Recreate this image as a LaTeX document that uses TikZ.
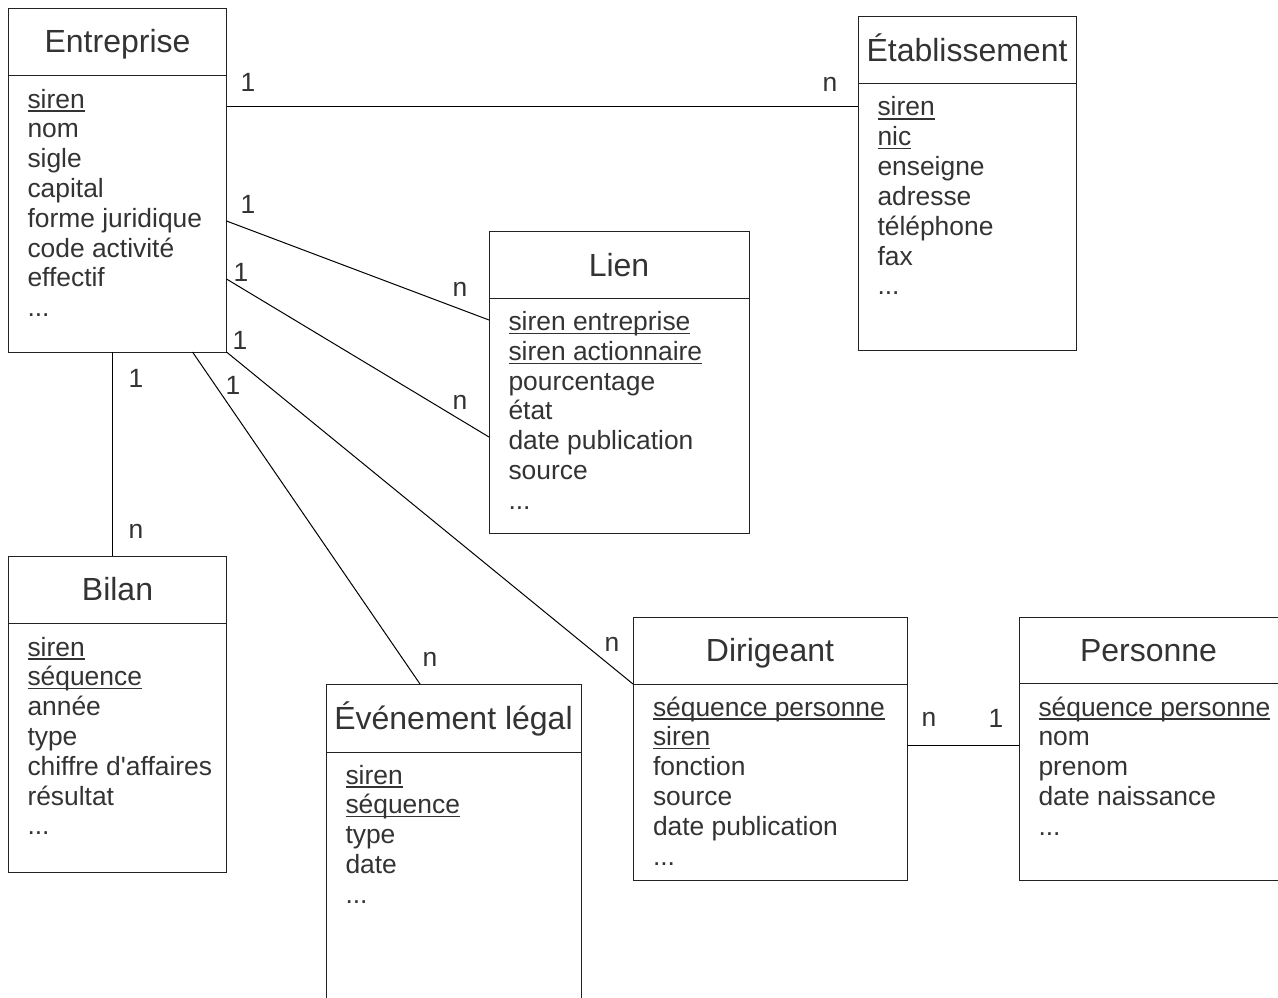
\documentclass[tikz,border=0pt]{standalone}
\usepackage{fontspec}
\setmainfont{Liberation Sans}
\usetikzlibrary{calc}
\definecolor{txt}{HTML}{333333}
\definecolor{edge}{HTML}{222222}
\newsavebox\keybox
\newcommand\keyattr[1]{\sbox\keybox{#1}\rlap{\rule[-3.6pt]{\wd\keybox}{1.3pt}}\usebox\keybox}
\newcommand\moreattr{.\kern0pt.\kern0pt.}
\begin{document}
\begin{tikzpicture}[x=1pt,y=-1pt,line width=1pt,
  box/.style={draw=edge, anchor=north west, inner sep=0pt, outer sep=0pt},
  headline/.style={draw=edge, line width=1pt},
  ttl/.style={anchor=base, inner sep=0pt, text=txt, font=\fontsize{32}{38}\selectfont},
  attr/.style={anchor=base west, inner sep=0pt, text=txt, font=\fontsize{26.4}{30}\selectfont},
  card/.style={anchor=center, inner sep=0pt, text=txt, font=\fontsize{26.4}{30}\selectfont},
  link/.style={draw=black, line width=1pt}]
\useasboundingbox (0,0) rectangle (1278,998);
\fill[white] (0,0) rectangle (1278,998);

% ---------- Entreprise
\node[box, minimum width=218pt, minimum height=343.5pt] (ent) at (8.5,8.5) {};
\draw[headline] ($(ent.north west)+(0,67.5)$) -- ($(ent.north east)+(0,67.5)$);
\node[ttl] (ent-t) at ($(ent.north)+(0,44.5)$) {Entreprise};
\foreach \a [count=\i] in {\keyattr{siren},nom,sigle,capital,forme juridique,code activité,effectif,\moreattr}
  \node[attr] (ent-\i) at ($(ent.north west)+(18.5,{99.5+(\i-1)*29.8})$) {\a};

% ---------- Etablissement
\node[box, minimum width=218pt, minimum height=333pt] (etab) at (858,17) {};
\draw[headline] ($(etab.north west)+(0,67)$) -- ($(etab.north east)+(0,67)$);
\node[ttl] (etab-t) at ($(etab.north)+(0,44.5)$) {Établissement};
\foreach \a [count=\i] in {\keyattr{siren},\keyattr{nic},enseigne,adresse,téléphone,fax,\moreattr}
  \node[attr] (etab-\i) at ($(etab.north west)+(19,{99+(\i-1)*29.8})$) {\a};

% ---------- Lien
\node[box, minimum width=260pt, minimum height=302pt] (lien) at (489,231) {};
\draw[headline] ($(lien.north west)+(0,67)$) -- ($(lien.north east)+(0,67)$);
\node[ttl] (lien-t) at ($(lien.north)+(0,45)$) {Lien};
\foreach \a [count=\i] in {\keyattr{siren entreprise},\keyattr{siren actionnaire},pourcentage,état,date publication,source,\moreattr}
  \node[attr] (lien-\i) at ($(lien.north west)+(19,{99.5+(\i-1)*29.8})$) {\a};

% ---------- Bilan
\node[box, minimum width=218pt, minimum height=316pt] (bilan) at (8.5,556) {};
\draw[headline] ($(bilan.north west)+(0,67)$) -- ($(bilan.north east)+(0,67)$);
\node[ttl] (bilan-t) at ($(bilan.north)+(0,44.5)$) {Bilan};
\foreach \a [count=\i] in {\keyattr{siren},\keyattr{séquence},année,type,chiffre d\textquotesingle affaires,résultat,\moreattr}
  \node[attr] (bilan-\i) at ($(bilan.north west)+(18.5,{100+(\i-1)*29.8})$) {\a};

% ---------- Evenement legal
\node[box, minimum width=255pt, minimum height=330pt] (evt) at (326,684) {};
\draw[headline] ($(evt.north west)+(0,68)$) -- ($(evt.north east)+(0,68)$);
\node[ttl] (evt-t) at ($(evt.north)+(0,45)$) {Événement légal};
\foreach \a [count=\i] in {\keyattr{siren},\keyattr{séquence},type,date,\moreattr}
  \node[attr] (evt-\i) at ($(evt.north west)+(19,{100+(\i-1)*29.8})$) {\a};

% ---------- Dirigeant
\node[box, minimum width=274pt, minimum height=263pt] (dir) at (633,617) {};
\draw[headline] ($(dir.north west)+(0,67)$) -- ($(dir.north east)+(0,67)$);
\node[ttl] (dir-t) at ($(dir.north)+(0,44.5)$) {Dirigeant};
\foreach \a [count=\i] in {\keyattr{séquence personne},\keyattr{siren},fonction,source,date publication,\moreattr}
  \node[attr] (dir-\i) at ($(dir.north west)+(19.5,{99+(\i-1)*29.8})$) {\a};

% ---------- Personne
\node[box, minimum width=262pt, minimum height=263pt] (pers) at (1019,617) {};
\draw[headline] ($(pers.north west)+(0,66.5)$) -- ($(pers.north east)+(0,66.5)$);
\node[ttl] (pers-t) at ($(pers.north west)+(129.5,44)$) {Personne};
\foreach \a [count=\i] in {\keyattr{séquence personne},nom,prenom,date naissance,\moreattr}
  \node[attr] (pers-\i) at ($(pers.north west)+(19,{99+(\i-1)*29.8})$) {\a};

% ---------- connectors
\draw[link] ($(ent.north east)+(0,98.5)$) -- ($(etab.north west)+(0,90)$);
\draw[link] ($(ent.north east)+(0,212.5)$) -- ($(lien.north west)+(0,89)$);
\draw[link] ($(ent.north east)+(0,270.5)$) -- ($(lien.north west)+(0,206)$);
\draw[link] (ent.south east) -- ($(dir.north west)+(0,67)$);
\draw[link] ($(ent.south west)+(184,0)$) -- ($(evt.north west)+(94,0)$);
\draw[link] ($(ent.south west)+(104,0)$) -- ($(bilan.north west)+(104,0)$);
\draw[link] ($(dir.north east)+(0,128)$) -- ($(pers.north west)+(0,128)$);

% ---------- cardinalities
\node[card] (c1a) at (248,82) {1};
\node[card] (c1b) at (830,84) {n};
\node[card] (c2a) at (248,204) {1};
\node[card] (c2b) at (460,289) {n};
\node[card] (c3a) at (241,272) {1};
\node[card] (c3b) at (460,402) {n};
\node[card] (c4a) at (240,340) {1};
\node[card] (c4b) at (612,644) {n};
\node[card] (c5a) at (233,385) {1};
\node[card] (c5b) at (430,659) {n};
\node[card] (c6a) at (136,378) {1};
\node[card] (c6b) at (136,531) {n};
\node[card] (c7a) at (929,719) {n};
\node[card] (c7b) at (996,718) {1};
\end{tikzpicture}
\end{document}
